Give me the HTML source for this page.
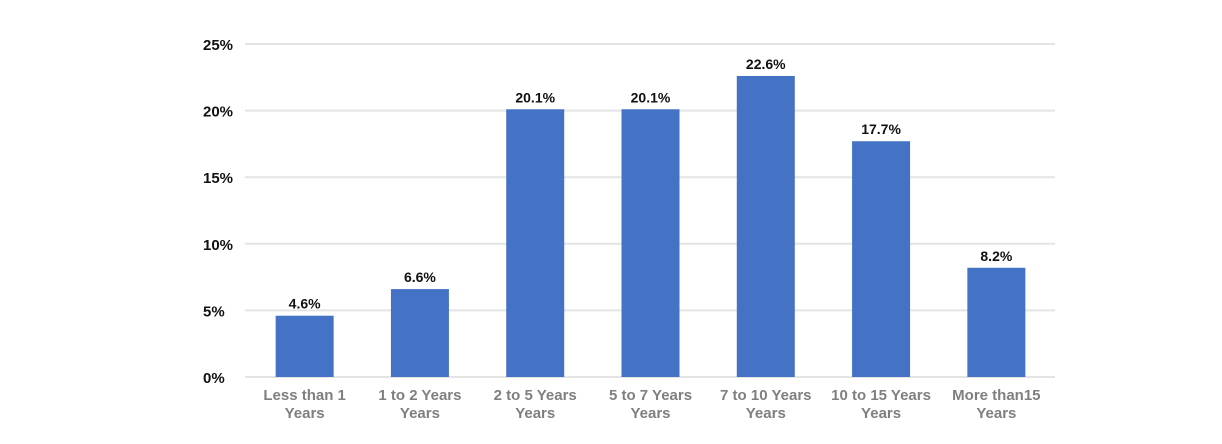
<!DOCTYPE html>
<html><head><meta charset="utf-8"><style>
body{margin:0;background:#fff;width:1222px;height:444px;overflow:hidden}
svg{display:block;font-family:"Liberation Sans",sans-serif}
</style></head><body>
<svg id="chart" width="1222" height="444"></svg>
<script>
const categories=[["Less than 1","Years"],["1 to 2 Years","Years"],["2 to 5 Years","Years"],["5 to 7 Years","Years"],["7 to 10 Years","Years"],["10 to 15 Years","Years"],["More than15","Years"]];
const values=[4.6,6.6,20.1,20.1,22.6,17.7,8.2];
const ticks=[0,5,10,15,20,25];
const svg=document.getElementById('chart');
const NS='http://www.w3.org/2000/svg';
const gx0=245,gx1=1055,x0=247,x1=1054,y0=377,y1=44,maxV=25;
const step=(x1-x0)/categories.length;
function y(v){return y0-(v/maxV)*(y0-y1);}
function xc(i){return x0+step*(i+0.5);}
function mk(t,a){const e=document.createElementNS(NS,t);for(const k in a)e.setAttribute(k,a[k]);svg.appendChild(e);return e;}
ticks.forEach(t=>{
 const l=mk('line',{x1:gx0,x2:gx1,y1:y(t),y2:y(t),stroke:'#e4e4e4','stroke-width':2});
 
 
 const tx=mk('text',{x:203,y:y(t)+6,'font-size':15,'font-weight':'bold',fill:'#111'});
 tx.textContent=t+'%';
 
 
});
values.forEach((v,i)=>{
 const b=mk('rect',{x:xc(i)-29,y:y(v),width:58,height:y0-y(v),fill:'#4472c4'});
 
 
 const t=mk('text',{x:xc(i),y:y(v)-7,'text-anchor':'middle','font-size':14,'font-weight':'bold',fill:'#111'});
 t.textContent=v.toFixed(1)+'%';
 
 
 categories[i].forEach((s,j)=>{
  const c=mk('text',{x:xc(i),y:400+j*18,'text-anchor':'middle','font-size':15,'font-weight':'bold',fill:'#7f7f7f'});
  c.textContent=s;
  
  
 });
});
</script>
</body></html>
